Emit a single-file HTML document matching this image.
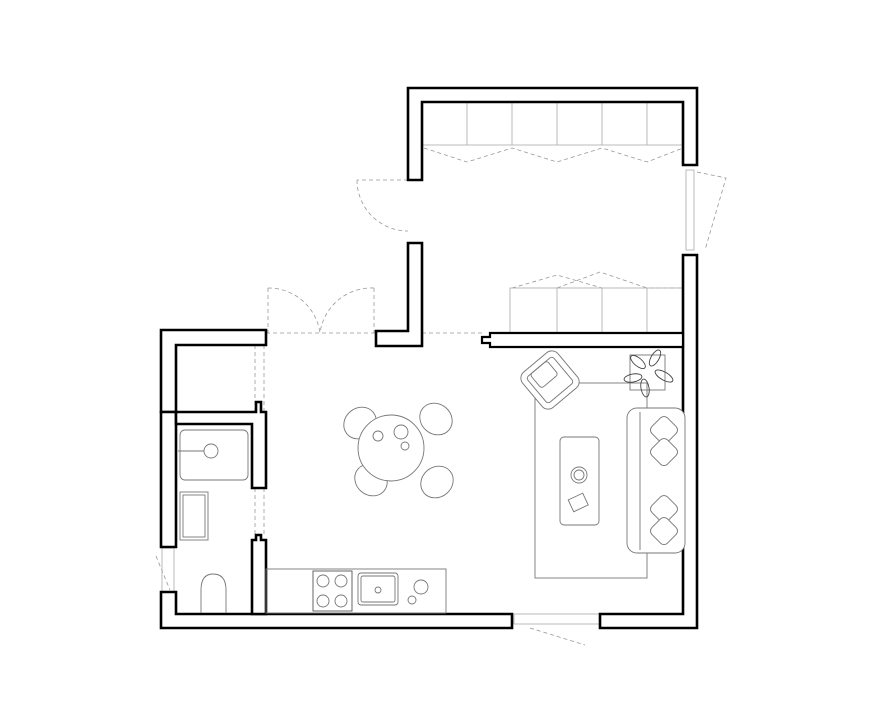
<!DOCTYPE html>
<html><head><style>html,body{margin:0;padding:0;background:#fff}svg{display:block}</style></head>
<body>
<svg width="888" height="726" viewBox="0 0 888 726" xmlns="http://www.w3.org/2000/svg" font-family="Liberation Sans, sans-serif">
<g fill="none" stroke="#999" stroke-width="0.8" stroke-dasharray="4,3">
  <path d="M408 180 H357 M357 180 A51 51 0 0 0 408 231"/>
  <path d="M268 288 V333 M374 288 V333 M268 288 A52 52 0 0 1 320 333 M374 288 A52 52 0 0 0 320 333"/>
  <path d="M266 333 H376 M422 333 H485"/>
  <path d="M697 172 L726 178 L705 250"/>
  <path d="M424 148 L467 162 L512 148 L557 162 L602 148 L647 162 L683 148"/>
  <path d="M512 288 L557 275 L602 288"/>
  <path d="M557 288 L600 272 L647 288 L683 288"/>
  <path d="M255 488 V537 M264 488 V537 M255 345 V412 M264 345 V412"/>
  <path d="M156 556 L170 590"/>
  <path d="M530 628 L585 645"/>
</g>
<g fill="none" stroke="#aaa" stroke-width="0.8">
  <rect x="422" y="102" width="261" height="43"/>
  <path d="M467 102V145M512 102V145M557 102V145M602 102V145M647 102V145"/>
  <rect x="510" y="288" width="173" height="45"/>
  <path d="M557 288V333M602 288V333M647 288V333"/>
  <rect x="686" y="170" width="8" height="80"/>
  <rect x="514" y="614" width="86" height="10"/>
  <rect x="162" y="548" width="12" height="44"/>
</g>
<g fill="#fff" stroke="#000" stroke-width="2.6" stroke-linejoin="miter">
  <path d="M408 88 H697 V165 H683 V102 H422 V180 H408 Z"/>
  <path d="M683 255 H697 V628 H600 V614 H683 Z"/>
  <path d="M408 243 H422 V346 H376 V331 H408 Z"/>
  <path d="M161 330 H266 V345 H176 V412 H161 Z"/>
  <path d="M161 412 H176 V547 H161 Z"/>
  <path d="M161 592 H176 V614 H512 V628 H161 Z"/>
  <path d="M176 412 H256 V402 H261 V412 H266 V488 H252 V424 H176 Z"/>
  <path d="M252 540 H256 V535 H261 V540 H266 V614 H252 Z"/>
  <path d="M490 333 H683 V347 H490 V343 H482 V337 H490 Z" stroke-width="2.2"/>
</g>
<g fill="none" stroke="#777" stroke-width="0.9">
  <rect x="180" y="430" width="68" height="50" rx="5"/>
  <circle cx="211" cy="451" r="7"/><path d="M178 451H204"/>
  <rect x="180" y="492" width="28" height="48"/><rect x="183" y="495" width="22" height="42"/>
  <path d="M201 613 V590 Q201 574 213 574 Q226 574 226 590 V613"/>
  <rect x="266" y="569" width="180" height="44"/>
  <rect x="313" y="571" width="39" height="40" stroke="#555"/>
  <circle cx="323" cy="581" r="6"/><circle cx="341" cy="581" r="6"/><circle cx="323" cy="601" r="6"/><circle cx="341" cy="601" r="6"/>
  <rect x="358" y="573" width="40" height="32" rx="3"/><rect x="361" y="576" width="34" height="26" rx="2"/>
  <circle cx="378" cy="590" r="3"/>
  <circle cx="421" cy="587" r="7"/><circle cx="412" cy="600" r="4"/>
  <ellipse cx="360" cy="423" rx="17" ry="15" transform="rotate(-40 360 423)"/>
  <ellipse cx="436" cy="419" rx="17" ry="15" transform="rotate(40 436 419)"/>
  <ellipse cx="371" cy="480" rx="17" ry="15" transform="rotate(40 371 480)"/>
  <ellipse cx="437" cy="482" rx="17" ry="15" transform="rotate(-40 437 482)"/>
  <circle cx="391" cy="448" r="33" fill="#fff"/>
  <circle cx="378" cy="436" r="5"/><circle cx="401" cy="432" r="7"/><circle cx="405" cy="446" r="4"/>
  <rect x="535" y="383" width="112" height="195"/>
  <rect x="560" y="437" width="39" height="88" rx="4"/>
  <circle cx="579" cy="475" r="8"/><circle cx="579" cy="475" r="5"/>
  <rect x="570" y="496" width="16" height="13" transform="rotate(-25 578 502)"/>
  <rect x="627" y="408" width="58" height="145" rx="10" fill="#fff"/>
  <path d="M640 412 V550"/>
  <g transform="rotate(-40 550 380)"><rect x="527" y="357" width="46" height="46" rx="8" fill="#fff"/><rect x="533" y="363" width="34" height="34" rx="3"/><rect x="538" y="363" width="22" height="18" rx="3"/></g>
  <g transform="rotate(45 664 430)"><rect x="653" y="419" width="22" height="22" rx="5" fill="#fff"/></g>
  <g transform="rotate(45 664 452)"><rect x="653" y="441" width="22" height="22" rx="5" fill="#fff"/></g>
  <g transform="rotate(45 664 509)"><rect x="653" y="498" width="22" height="22" rx="5" fill="#fff"/></g>
  <g transform="rotate(45 664 531)"><rect x="653" y="520" width="22" height="22" rx="5" fill="#fff"/></g>
  <rect x="630" y="355" width="35" height="35"/>
  <g stroke="#444">
    <ellipse cx="638" cy="362" rx="9" ry="4" transform="rotate(40 638 362)"/>
    <ellipse cx="655" cy="358" rx="9" ry="4" transform="rotate(-60 655 358)"/>
    <ellipse cx="633" cy="378" rx="9" ry="4" transform="rotate(-10 633 378)"/>
    <ellipse cx="664" cy="376" rx="10" ry="4" transform="rotate(30 664 376)"/>
    <ellipse cx="645" cy="388" rx="9" ry="4" transform="rotate(80 645 388)"/>
  </g>
</g>
</svg>
</body></html>
